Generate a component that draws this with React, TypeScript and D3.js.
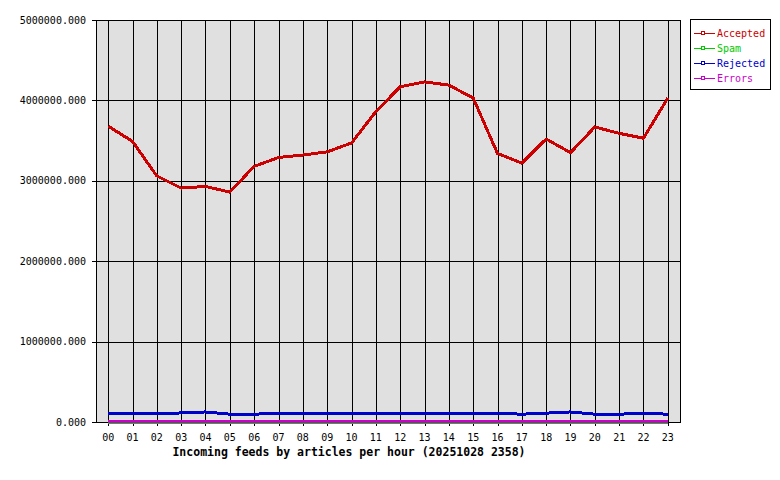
import React from "react";
import * as d3 from "d3";

const hours = ["00","01","02","03","04","05","06","07","08","09","10","11","12","13","14","15","16","17","18","19","20","21","22","23"];
const accepted = [3680000,3490000,3060000,2910000,2930000,2860000,3180000,3290000,3320000,3360000,3470000,3860000,4170000,4230000,4190000,4030000,3340000,3220000,3520000,3350000,3670000,3590000,3530000,4030000];
const spam = [0,0,0,0,0,0,0,0,0,0,0,0,0,0,0,0,0,0,0,0,0,0,0,0];
const rejected = [110000,110000,110000,112000,125000,97000,97000,110000,110000,110000,110000,110000,110000,110000,110000,110000,108000,97000,110000,125000,97000,97000,110000,97000];
const errors = [10000,10000,10000,10000,10000,10000,10000,10000,10000,10000,10000,10000,10000,10000,10000,10000,10000,10000,10000,10000,10000,10000,10000,10000];
const yTicks = [0,1000000,2000000,3000000,4000000,5000000];
const seriesNames = ["Accepted","Spam","Rejected","Errors"];
const seriesColors = ["#cc0000","#00cc00","#0000cc","#cc00cc"];
const title = "Incoming feeds by articles per hour (20251028 2358)";

export default function App() {
  const W = 780, H = 480;
  const left = 96, right = 680, top = 20, bottom = 422;
  const x = d3.scaleBand<string>().domain(hours).range([left, right]).padding(0);
  const cx = (h: string) => (x(h) as number) + x.bandwidth() / 2;
  const y = d3.scaleLinear().domain([0, 5000000]).range([bottom, top]);
  const allSeries = [accepted, spam, rejected, errors];
  const line = d3.line<number>().x((_, i) => cx(hours[i])).y((v) => y(v));
  const font = "'DejaVu Sans Mono', monospace";
  return (
    <svg width={W} height={H} style={{ position: "absolute", left: 0, top: 0, background: "#fff" }}>
      <rect x={0} y={0} width={W} height={H} fill="#fff" />
      <rect x={left} y={top} width={right - left} height={bottom - top} fill="#e0e0e0" />
      <g shapeRendering="crispEdges" stroke="#000" strokeWidth={1}>
        {hours.map((h) => (
          <line key={"v" + h} x1={Math.round(cx(h)) + 0.5} x2={Math.round(cx(h)) + 0.5} y1={top} y2={bottom + 4} />
        ))}
        {yTicks.map((t) => (
          <line key={"h" + t} x1={left - 4} x2={right} y1={Math.round(y(t)) + 0.5} y2={Math.round(y(t)) + 0.5} />
        ))}
        <rect x={left + 0.5} y={top + 0.5} width={right - left} height={bottom - top} fill="none" />
      </g>
      <g fill="none" strokeWidth={3} strokeLinejoin="round" shapeRendering="crispEdges">
        {allSeries.map((s, i) => (
          <path key={seriesNames[i]} d={line(s) as string} stroke={seriesColors[i]} />
        ))}
      </g>
      <g fontFamily={font} fontSize={10} fill="#000">
        {yTicks.map((t) => (
          <text key={"yl" + t} x={left - 10} y={y(t)} dy="0.35em" textAnchor="end">
            {d3.format(".3f")(t)}
          </text>
        ))}
        {hours.map((h) => (
          <text key={"xl" + h} x={cx(h)} y={437} dy="0.35em" textAnchor="middle">{h}</text>
        ))}
      </g>
      <text x={349} y={452} dy="0.35em" textAnchor="middle" fontFamily={font} fontSize={11.5} fontWeight="bold" fill="#000">
        {title}
      </text>
      <g shapeRendering="crispEdges">
        <rect x={690.5} y={19.5} width={80} height={70} fill="#fff" stroke="#000" />
        {seriesNames.map((n, i) => {
          const ly = 33 + i * 15;
          return (
            <g key={"lg" + n}>
              <line x1={694} x2={715} y1={ly + 0.5} y2={ly + 0.5} stroke={seriesColors[i]} />
              <rect x={701.5} y={ly - 1.5} width={3} height={3} fill="#fff" stroke={seriesColors[i]} />
              <text x={717} y={ly} dy="0.35em" fontFamily={font} fontSize={10} fill={seriesColors[i]}>{n}</text>
            </g>
          );
        })}
      </g>
    </svg>
  );
}
